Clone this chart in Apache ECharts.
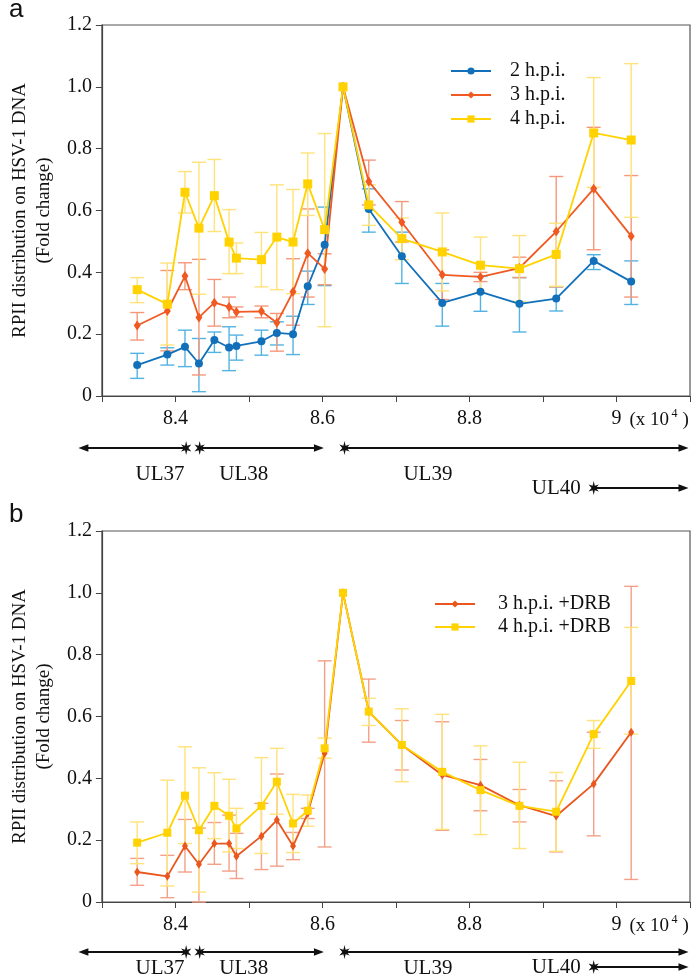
<!DOCTYPE html>
<html><head><meta charset="utf-8">
<script src="https://cdn.jsdelivr.net/npm/echarts@6/dist/echarts.min.js"></script>
<style>html,body{margin:0;padding:0;background:#fff}#c{width:693px;height:975px}</style>
</head><body><div id="c"></div>
<script>
// genome position (x 10^4)
const xPos = [8.348, 8.389, 8.413, 8.432, 8.453, 8.473, 8.483, 8.517, 8.538, 8.560, 8.580, 8.603, 8.628, 8.663, 8.708, 8.763, 8.815, 8.868, 8.918, 8.969, 9.020];
const xTickLabels = ['8.4', '8.6', '8.8', '9'];
const yTickLabels = ['0', '0.2', '0.4', '0.6', '0.8', '1.0', '1.2'];

// panel a
const h2 = [0.100, 0.134, 0.159, 0.105, 0.181, 0.157, 0.162, 0.177, 0.204, 0.200, 0.355, 0.489, 1.0, 0.605, 0.452, 0.301, 0.337, 0.298, 0.315, 0.437, 0.370];
const h2Lo = [0.057, 0.100, 0.095, 0.014, 0.141, 0.082, 0.116, 0.132, 0.165, 0.134, 0.296, 0.357, 1.0, 0.530, 0.364, 0.226, 0.274, 0.207, 0.275, 0.409, 0.296];
const h2Hi = [0.138, 0.156, 0.213, 0.186, 0.207, 0.224, 0.197, 0.213, 0.240, 0.258, 0.404, 0.611, 1.0, 0.670, 0.530, 0.364, 0.387, 0.383, 0.353, 0.457, 0.437];
const h3 = [0.228, 0.275, 0.388, 0.254, 0.302, 0.288, 0.272, 0.274, 0.237, 0.337, 0.462, 0.411, 1.0, 0.694, 0.562, 0.392, 0.385, 0.414, 0.532, 0.670, 0.517];
const h3Lo = [0.181, 0.146, 0.344, 0.068, 0.226, 0.253, 0.256, 0.253, 0.145, 0.229, 0.320, 0.360, 1.0, 0.618, 0.498, 0.312, 0.370, 0.383, 0.353, 0.473, 0.320];
const h3Hi = [0.270, 0.406, 0.431, 0.442, 0.377, 0.320, 0.288, 0.291, 0.267, 0.444, 0.605, 0.460, 1.0, 0.763, 0.629, 0.473, 0.400, 0.449, 0.710, 0.869, 0.713];
const h4 = [0.344, 0.297, 0.659, 0.543, 0.648, 0.498, 0.446, 0.441, 0.514, 0.498, 0.686, 0.538, 1.0, 0.618, 0.509, 0.466, 0.423, 0.412, 0.458, 0.851, 0.828];
const h4Lo = [0.302, 0.165, 0.592, 0.329, 0.532, 0.396, 0.396, 0.353, 0.344, 0.331, 0.584, 0.224, 1.0, 0.552, 0.441, 0.340, 0.333, 0.306, 0.355, 0.675, 0.578];
const h4Hi = [0.383, 0.430, 0.726, 0.756, 0.765, 0.603, 0.495, 0.529, 0.683, 0.668, 0.786, 0.849, 1.0, 0.683, 0.576, 0.592, 0.514, 0.519, 0.559, 1.030, 1.075];

// panel b
const d3 = [0.097, 0.083, 0.181, 0.122, 0.189, 0.189, 0.148, 0.213, 0.265, 0.181, 0.287, 0.481, 1.0, 0.616, 0.508, 0.411, 0.378, 0.313, 0.278, 0.382, 0.549];
const d3Lo = [0.054, 0.014, 0.097, 0.000, 0.122, 0.100, 0.076, 0.105, 0.116, 0.137, 0.270, 0.178, 1.0, 0.517, 0.427, 0.232, 0.295, 0.259, 0.162, 0.214, 0.073];
const d3Hi = [0.141, 0.151, 0.267, 0.239, 0.257, 0.281, 0.222, 0.319, 0.414, 0.225, 0.303, 0.780, 1.0, 0.721, 0.587, 0.583, 0.461, 0.364, 0.392, 0.549, 1.021];
const d4 = [0.192, 0.224, 0.344, 0.232, 0.311, 0.279, 0.238, 0.311, 0.389, 0.254, 0.295, 0.497, 1.0, 0.616, 0.508, 0.421, 0.362, 0.311, 0.292, 0.543, 0.715];
const d4Lo = [0.124, 0.052, 0.189, 0.032, 0.205, 0.162, 0.173, 0.157, 0.284, 0.160, 0.245, 0.465, 1.0, 0.571, 0.389, 0.235, 0.218, 0.173, 0.164, 0.497, 0.543];
const d4Hi = [0.259, 0.394, 0.502, 0.434, 0.418, 0.397, 0.303, 0.467, 0.497, 0.348, 0.346, 0.530, 1.0, 0.659, 0.625, 0.607, 0.505, 0.452, 0.419, 0.587, 0.888];

// gene annotations
const geneNames = ['UL37', 'UL38', 'UL39', 'UL40'];
const geneStar = [8.4146, 8.433, 8.630, 8.969];
const geneEnd = [8.268, 8.602, 9.098, 9.098];
const geneLabelX = [8.379, 8.493, 8.7435, 8.918];
const geneRow = [0, 0, 0, 1];

const SERIF = 'Liberation Serif';
const C = {
  blue: '#1170b9', blueErr: '#52b3e3',
  orange: '#f05a22', orangeErr: '#f5987a',
  yellow: '#ffd200', yellowErr: '#ffe27a',
  orangeB: '#e9561e', orangeBErr: '#f4a088'
};

function lineSeries(name, gi, vals, symbol, size, color) {
  return {
    type: 'line', name, xAxisIndex: gi, yAxisIndex: gi, z: 3,
    data: xPos.map((x, i) => [x, vals[i]]),
    symbol, symbolSize: size, showSymbol: true,
    itemStyle: { color, opacity: 1 }, lineStyle: { color, width: 1.8 },
    emphasis: { disabled: true }, animation: false
  };
}
function errSeries(gi, lo, hi, color) {
  return {
    type: 'custom', xAxisIndex: gi, yAxisIndex: gi, z: 1, silent: true, animation: false,
    data: xPos.map((x, i) => [x, lo[i], hi[i]]),
    encode: { x: 0, y: [1, 2] },
    renderItem(params, api) {
      const x = api.value(0), l = api.value(1), h = api.value(2);
      if (l === h) return null;
      const p1 = api.coord([x, l]), p2 = api.coord([x, h]);
      const w = 7;
      const st = { stroke: color, lineWidth: 1.4 };
      return { type: 'group', children: [
        { type: 'line', shape: { x1: p1[0], y1: p1[1], x2: p2[0], y2: p2[1] }, style: st },
        { type: 'line', shape: { x1: p1[0] - w, y1: p1[1], x2: p1[0] + w, y2: p1[1] }, style: st },
        { type: 'line', shape: { x1: p2[0] - w, y1: p2[1], x2: p2[0] + w, y2: p2[1] }, style: st }
      ]};
    }
  };
}
function xAx(gi) {
  return {
    type: 'value', gridIndex: gi, min: 8.3, max: 9.1, interval: 0.1,
    axisLine: { lineStyle: { color: '#444', width: 1.2 } },
    axisTick: { length: 6, lineStyle: { color: '#444' } },
    splitLine: { show: false },
    axisLabel: {
      margin: 13, color: '#111', fontFamily: SERIF, fontSize: 20,
      formatter: v => {
        const k = Math.round(v * 10);
        const s = String(k / 10);
        return (k % 2 === 0 && xTickLabels.includes(s)) ? s : '';
      }
    }
  };
}
function yAx(gi) {
  return {
    type: 'value', gridIndex: gi, min: 0, max: 1.2, interval: 0.2,
    name: 'RPII distribution on HSV-1 DNA\n(Fold change)',
    nameLocation: 'middle', nameGap: 42, nameRotate: 90,
    nameTextStyle: { fontFamily: SERIF, fontSize: 19, color: '#111', lineHeight: 24 },
    axisLine: { lineStyle: { color: '#444', width: 1.2 } },
    axisTick: { length: 6, lineStyle: { color: '#444' } },
    splitLine: { show: false },
    axisLabel: {
      margin: 10, color: '#111', fontFamily: SERIF, fontSize: 20,
      formatter: v => yTickLabels[Math.round(v / 0.2)]
    }
  };
}
const legendText = pad => ({ fontFamily: SERIF, fontSize: 20, color: '#111',
  rich: { t: { fontFamily: SERIF, fontSize: 20, color: '#111', padding: [0, 0, 0, pad] } } });

const chart = echarts.init(document.getElementById('c'));
chart.setOption({
  animation: false,
  backgroundColor: '#fff',
  title: [
    { text: 'a', left: 9, top: -3, padding: 0, textStyle: { fontFamily: 'Liberation Sans', fontSize: 26, fontWeight: 'normal', color: '#111' } },
    { text: 'b', left: 9, top: 502, padding: 0, textStyle: { fontFamily: 'Liberation Sans', fontSize: 26, fontWeight: 'normal', color: '#111' } }
  ],
  grid: [
    { left: 89, right: 3, top: 25, height: 371, show: true, borderColor: '#555', borderWidth: 1.2, backgroundColor: 'transparent' },
    { left: 89, right: 3, top: 531, height: 371, show: true, borderColor: '#555', borderWidth: 1.2, backgroundColor: 'transparent' }
  ],
  xAxis: [xAx(0), xAx(1)],
  yAxis: [yAx(0), yAx(1)],
  legend: [
    { data: ['2 h.p.i.', '3 h.p.i.', '4 h.p.i.'], orient: 'vertical', left: 450, top: 61, padding: 0,
      itemWidth: 40, itemHeight: 9, itemGap: 4, textStyle: legendText(14), selectedMode: false,
      formatter: n => '{t|' + n + '}' },
    { data: ['3 h.p.i. +DRB', '4 h.p.i. +DRB'], orient: 'vertical', left: 434, top: 594, padding: 0,
      itemWidth: 40, itemHeight: 9, itemGap: 3, textStyle: legendText(18), selectedMode: false,
      formatter: n => '{t|' + n + '}' }
  ],
  series: [
    errSeries(0, h2Lo, h2Hi, C.blueErr),
    errSeries(0, h3Lo, h3Hi, C.orangeErr),
    errSeries(0, h4Lo, h4Hi, C.yellowErr),
    lineSeries('2 h.p.i.', 0, h2, 'circle', 8, C.blue),
    lineSeries('3 h.p.i.', 0, h3, 'diamond', [7, 10], C.orange),
    lineSeries('4 h.p.i.', 0, h4, 'rect', 9, C.yellow),
    errSeries(1, d3Lo, d3Hi, C.orangeBErr),
    errSeries(1, d4Lo, d4Hi, C.yellowErr),
    lineSeries('3 h.p.i. +DRB', 1, d3, 'diamond', [6, 9], C.orangeB),
    lineSeries('4 h.p.i. +DRB', 1, d4, 'rect', 8, C.yellow)
  ]
});

// annotation graphics (positions from the x axis scale)
function starPts(cx, cy) {
  const pts = [];
  for (let i = 0; i < 12; i++) {
    const a = -Math.PI / 2 + i * Math.PI / 6;
    const r = i % 2 === 0 ? 7 : 2.6;
    pts.push([cx + r * Math.cos(a) * 0.85, cy + r * Math.sin(a)]);
  }
  return pts;
}
const rows = [
  { tick: 396, arrow: 448, label: 474, row2: 488 },
  { tick: 902, arrow: 952, label: 968, row2: 967 }
];
const graphics = [];
[0, 1].forEach(gi => {
  const R = rows[gi];
  const px = v => chart.convertToPixel({ xAxisIndex: gi }, v);
  geneNames.forEach((g, k) => {
    const y = geneRow[k] === 0 ? R.arrow : R.row2;
    const sx = px(geneStar[k]), ex = px(geneEnd[k]);
    const dir = ex > sx ? 1 : -1;
    const head = 10;
    graphics.push({ type: 'line', shape: { x1: sx, y1: y, x2: ex - dir * head * 0.6, y2: y }, style: { stroke: '#111', lineWidth: 2 } });
    graphics.push({ type: 'polygon', shape: { points: [[ex, y], [ex - dir * head, y - 3.8], [ex - dir * head, y + 3.8]] }, style: { fill: '#111' } });
    graphics.push({ type: 'polygon', shape: { points: starPts(sx, y) }, style: { fill: '#111' } });
    const ly = geneRow[k] === 0 ? R.label : R.row2;
    graphics.push({ type: 'text', x: px(geneLabelX[k]), y: ly,
      style: { text: g, fontFamily: SERIF, fontSize: 21, fill: '#111', align: 'center', verticalAlign: 'middle' } });
  });
  const x9 = px(9.0);
  const ly = R.tick + 24;
  graphics.push({ type: 'text', x: x9 + 13, y: ly, style: { text: '(x 10', fontFamily: SERIF, fontSize: 19, fill: '#111', align: 'left', verticalAlign: 'middle' } });
  graphics.push({ type: 'text', x: x9 + 55, y: ly - 6, style: { text: '4', fontFamily: SERIF, fontSize: 12, fill: '#111', align: 'left', verticalAlign: 'middle' } });
  graphics.push({ type: 'text', x: x9 + 66, y: ly, style: { text: ')', fontFamily: SERIF, fontSize: 19, fill: '#111', align: 'left', verticalAlign: 'middle' } });
});
chart.setOption({ graphic: graphics });
</script></body></html>
